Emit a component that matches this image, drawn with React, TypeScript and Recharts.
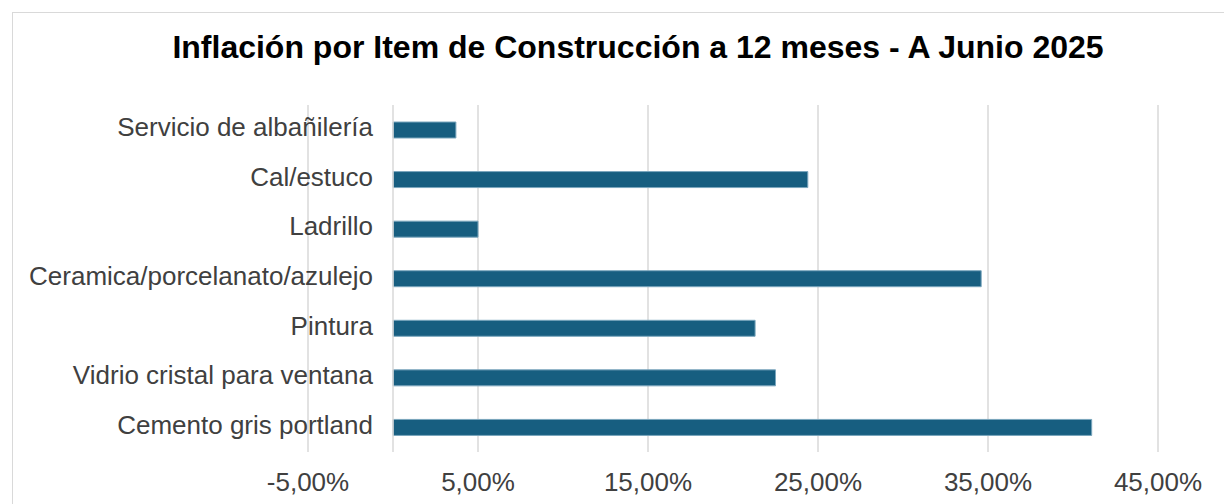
import { Bar, BarChart, CartesianGrid, ReferenceLine, XAxis, YAxis } from 'recharts';

const items = [
  'Servicio de albañilería',
  'Cal/estuco',
  'Ladrillo',
  'Ceramica/porcelanato/azulejo',
  'Pintura',
  'Vidrio cristal para ventana',
  'Cemento gris portland',
];
const inflation = [3.7, 24.4, 5.0, 34.6, 21.3, 22.5, 41.1];
const xTicks = [-5, 5, 15, 25, 35, 45];

const data = items.map((item, i) => ({ item, value: inflation[i] }));

const fmtPct = (v: number) => `${v.toFixed(2).replace('.', ',')}%`;

// las etiquetas de categoría quedan dentro del área, a la izquierda del 0
const CategoryTick = (props: any) => {
  const { x, y, payload } = props;
  return (
    <text x={x + 65} y={y} dy="0.25em" textAnchor="end" fill="#404040" fontSize={26} fontFamily="'Liberation Sans', Arial, sans-serif">
      {payload.value}
    </text>
  );
};

export default function App() {
  return (
    <div style={{ position: 'absolute', left: 0, top: 0, width: 1224, height: 504, background: '#fff', overflow: 'hidden' }}>
      <div
        style={{
          position: 'absolute',
          left: 12,
          top: 12,
          width: 1400,
          height: 700,
          border: '1px solid #d9d9d9',
        }}
      />
      <div
        style={{
          position: 'absolute',
          left: 0,
          top: 31,
          width: 1276,
          textAlign: 'center',
          fontFamily: "'Liberation Sans', Arial, sans-serif",
          fontWeight: 'bold',
          fontSize: 32,
          lineHeight: '32px',
          color: '#000',
          whiteSpace: 'nowrap',
        }}
      >
        Inflación por Item de Construcción a 12 meses - A Junio 2025
      </div>
      <div style={{ position: 'absolute', left: 0, top: 0 }}>
        <BarChart
          width={1224}
          height={504}
          data={data}
          layout="vertical"
          margin={{ top: 105, right: 66, left: 0, bottom: 12 }}
        >
          <CartesianGrid horizontal={false} stroke="#d9d9d9" strokeWidth={1.5} />
          <XAxis
            type="number"
            domain={[-5, 45]}
            ticks={xTicks}
            tickFormatter={fmtPct}
            axisLine={false}
            tickLine={false}
            tickSize={0}
            tickMargin={21}
            height={40}
            tick={{ fill: '#404040', fontSize: 26, fontFamily: "'Liberation Sans', Arial, sans-serif" }}
          />
          <YAxis
            type="category"
            dataKey="item"
            width={308}
            axisLine={false}
            tickLine={false}
            tickSize={0}
            tickMargin={0}
            tick={<CategoryTick />}
          />
          <ReferenceLine x={0} stroke="#d9d9d9" strokeWidth={1.5} />
          <Bar dataKey="value" fill="#175e80" stroke="#7aa6bd" strokeWidth={1} barSize={16} isAnimationActive={false} />
        </BarChart>
      </div>
    </div>
  );
}
